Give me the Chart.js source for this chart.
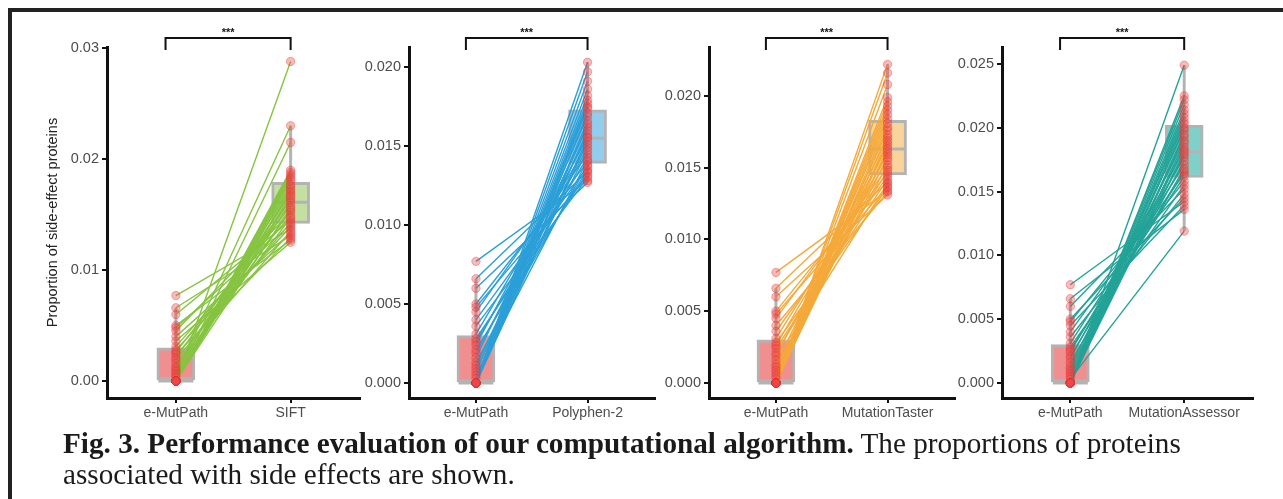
<!DOCTYPE html>
<html>
<head>
<meta charset="utf-8">
<script src="https://cdn.jsdelivr.net/npm/chart.js@4.4.1/dist/chart.umd.min.js"></script>
<style>
  html, body { margin: 0; padding: 0; background: #fff; }
  #page { position: relative; width: 1283px; height: 499px; overflow: hidden; background: #fff; }
  #frame { position: absolute; left: 8px; top: 8px; right: -10px; bottom: -10px;
           border-left: 4px solid #222; border-top: 4px solid #222; }
  canvas { position: absolute; top: 0; }
  #caption { position: absolute; left: 63px; top: 427px; font-family: 'Liberation Serif', 'Times New Roman', serif;
             font-size: 30px; line-height: 31px; color: #1a1a1a; white-space: nowrap;
             transform: scaleX(0.973); transform-origin: left top; }
</style>
</head>
<body>
<div id="page">
  <div id="frame"></div>
  <canvas id="p1" width="340" height="430" style="left:40px"></canvas>
  <canvas id="p2" width="330" height="430" style="left:345px"></canvas>
  <canvas id="p3" width="330" height="430" style="left:645px"></canvas>
  <canvas id="p4" width="335" height="430" style="left:938px"></canvas>
  <div id="caption"><b>Fig. 3. Performance evaluation of our computational algorithm.</b> The proportions of proteins<br>associated with side effects are shown.</div>
</div>
<script>
// paired values, one entry per item (same order in every array)
const eMutPath = [0.0077, 0.0066, 0.0060, 0.0050, 0.0048, 0.0045, 0.0040, 0.0036, 0.0031, 0.0028,
  0.0026, 0.0024, 0.0021, 0.0019, 0.0016, 0.0013, 0.0011, 0.0009, 0.0007, 0.0005,
  0.0003, 0, 0, 0, 0, 0, 0, 0, 0, 0, 0, 0, 0, 0, 0];
const sift = [0.0137, 0.0131, 0.0145, 0.0127, 0.0141, 0.0152, 0.0133, 0.0125, 0.0149, 0.0139,
  0.0158, 0.0129, 0.0163, 0.0143, 0.0135, 0.0169, 0.0147, 0.0175, 0.0154, 0.0230,
  0.0161, 0.0288, 0.0180, 0.0165, 0.0215, 0.0171, 0.0156, 0.0184, 0.0190, 0.0167,
  0.0182, 0.0173, 0.0186, 0.0177, 0.0188];
const polyphen2 = [0.0128, 0.0134, 0.0127, 0.0140, 0.0131, 0.0145, 0.0137, 0.0130, 0.0151, 0.0133,
  0.0143, 0.0156, 0.0135, 0.0149, 0.0162, 0.0138, 0.0158, 0.0147, 0.0169, 0.0141,
  0.0175, 0.0203, 0.0153, 0.0197, 0.0166, 0.0191, 0.0155, 0.0186, 0.0171, 0.0182,
  0.0160, 0.0179, 0.0164, 0.0177, 0.0174];
const mutationTaster = [0.0134, 0.0140, 0.0131, 0.0146, 0.0137, 0.0150, 0.0133, 0.0144, 0.0155, 0.0136,
  0.0159, 0.0142, 0.0148, 0.0165, 0.0139, 0.0171, 0.0152, 0.0161, 0.0176, 0.0157,
  0.0184, 0.0222, 0.0167, 0.0216, 0.0190, 0.0208, 0.0163, 0.0199, 0.0173, 0.0196,
  0.0169, 0.0187, 0.0178, 0.0193, 0.0181];
const mutationAssessor = [0.0142, 0.0136, 0.0152, 0.0145, 0.0158, 0.0139, 0.0164, 0.0148, 0.0171, 0.0155,
  0.0162, 0.0177, 0.0166, 0.0183, 0.0168, 0.0190, 0.0174, 0.0198, 0.0179, 0.0205,
  0.0119, 0.0249, 0.0185, 0.0225, 0.0193, 0.0222, 0.0181, 0.0218, 0.0200, 0.0214,
  0.0188, 0.0211, 0.0195, 0.0208, 0.0203];

// box stats: [whisker low, q1, median, q3, whisker high]
const eMutPathBox = [0, 0, 0, 0.0030, 0.0066];
const siftBox = [0.0125, 0.0142, 0.0161, 0.0179, 0.0230];
const polyphen2Box = [0.0127, 0.0139, 0.0155, 0.0173, 0.0203];
const mutationTasterBox = [0.0131, 0.0145, 0.0163, 0.0183, 0.0222];
const mutationAssessorBox = [0.0119, 0.0161, 0.0181, 0.0202, 0.0249];

// y tick labels
const yTicks1 = [0, 0.01, 0.02, 0.03];
const yTicks2 = [0, 0.005, 0.010, 0.015, 0.020];
const yTicks3 = [0, 0.005, 0.010, 0.015, 0.020];
const yTicks4 = [0, 0.005, 0.010, 0.015, 0.020, 0.025];

Chart.defaults.font.family = "'Liberation Sans', Arial, sans-serif";

const GREY = '#b3b3b3';
const PINK = '#ef8f8f';

// significance bracket above each panel
const bracketPlugin = {
  id: 'bracket',
  afterDraw(chart) {
    const { ctx, chartArea, scales } = chart;
    const x1 = scales.x.getPixelForValue(0.91);
    const x2 = scales.x.getPixelForValue(2);
    const yTop = chartArea.top - 9;
    const yEnd = chartArea.top + 3;
    ctx.save();
    ctx.strokeStyle = '#111';
    ctx.lineWidth = 2;
    ctx.beginPath();
    ctx.moveTo(x1, yEnd);
    ctx.lineTo(x1, yTop);
    ctx.lineTo(x2, yTop);
    ctx.lineTo(x2, yEnd);
    ctx.stroke();
    ctx.fillStyle = '#111';
    ctx.font = "bold 11px 'Liberation Sans', Arial, sans-serif";
    ctx.textAlign = 'center';
    ctx.textBaseline = 'middle';
    ctx.fillText('***', (x1 + x2) / 2, yTop - 5);
    ctx.restore();
  }
};

function makePanel(p) {
  const cats = ['e-MutPath', p.method];

  const pairLines = eMutPath.map((v, i) => ({
    type: 'line',
    data: [{ x: 1, y: v }, { x: 2, y: p.values[i] }],
    borderColor: p.lineColor,
    borderWidth: 1.4,
    pointRadius: 0,
    order: 1
  }));

  const points = {
    type: 'scatter',
    data: eMutPath.map(v => ({ x: 1, y: v })).concat(p.values.map(v => ({ x: 2, y: v }))),
    pointRadius: 4.2,
    pointBackgroundColor: 'rgba(236,72,72,0.38)',
    pointBorderColor: 'rgba(228,40,40,0.35)',
    pointBorderWidth: 1,
    order: 0
  };

  const boxes = {
    type: 'bar',
    data: [{ x: 1, y: [eMutPathBox[1], eMutPathBox[3]] }, { x: 2, y: [p.box[1], p.box[3]] }],
    backgroundColor: [PINK, p.boxColor],
    borderColor: GREY,
    borderWidth: 3,
    borderSkipped: false,
    barThickness: 38,
    order: 3
  };

  const medians = {
    type: 'scatter',
    data: [{ x: 1, y: eMutPathBox[2] }, { x: 2, y: p.box[2] }],
    pointStyle: 'line',
    pointRadius: 17.5,
    pointBorderColor: GREY,
    pointBorderWidth: 3,
    order: 2
  };

  const whiskers = [[1, eMutPathBox], [2, p.box]].map(([x, b]) => ({
    type: 'line',
    data: [{ x: x, y: b[0] }, { x: x, y: b[4] }],
    borderColor: GREY,
    borderWidth: 3,
    pointRadius: 0,
    order: 4
  }));

  new Chart(document.getElementById(p.id), {
    type: 'bar',
    data: { datasets: [points, ...pairLines, medians, boxes, ...whiskers] },
    options: {
      responsive: false,
      animation: false,
      devicePixelRatio: 1,
      layout: { padding: { top: 47, right: p.padRight, left: 0, bottom: 0 } },
      plugins: { legend: { display: false }, tooltip: { enabled: false } },
      scales: {
        x: {
          type: 'linear',
          min: 0.4,
          max: 2.6,
          offset: false,
          afterFit: s => { s.height = 32; },
          afterBuildTicks: axis => { axis.ticks = [{ value: 1 }, { value: 2 }]; },
          ticks: {
            autoSkip: false,
            maxRotation: 0,
            padding: 2,
            color: '#4d4d4d',
            font: { size: 14 },
            callback: v => cats[v - 1]
          },
          grid: { offset: false, drawOnChartArea: false, color: '#111', lineWidth: 2, tickLength: 5 },
          border: { display: true, color: '#111', width: 3 }
        },
        y: {
          type: 'linear',
          min: p.yMin,
          max: p.yMax,
          afterFit: s => { s.width = p.yWidth; },
          afterBuildTicks: axis => { axis.ticks = p.ticks.map(v => ({ value: v })); },
          ticks: {
            padding: 3,
            color: '#4d4d4d',
            font: { size: 14.5 },
            callback: v => v.toFixed(p.decimals)
          },
          grid: { drawOnChartArea: false, color: '#111', lineWidth: 2, tickLength: 5 },
          border: { display: true, color: '#111', width: 3 },
          title: {
            display: !!p.title,
            text: p.title || '',
            color: '#222',
            font: { size: 14.5 }
          }
        }
      }
    },
    plugins: [bracketPlugin]
  });
}

makePanel({ id: 'p1', method: 'SIFT', values: sift, box: siftBox, ticks: yTicks1, decimals: 2,
  yMin: -0.00153, yMax: 0.0301, yWidth: 67, padRight: 10,
  lineColor: '#86c441', boxColor: '#c4dfa2', title: 'Proportion of side-effect proteins' });
makePanel({ id: 'p2', method: 'Polyphen-2', values: polyphen2, box: polyphen2Box, ticks: yTicks2, decimals: 3,
  yMin: -0.00095, yMax: 0.02127, yWidth: 64, padRight: 10,
  lineColor: '#2b9fd8', boxColor: '#93cdee' });
makePanel({ id: 'p3', method: 'MutationTaster', values: mutationTaster, box: mutationTasterBox, ticks: yTicks3, decimals: 3,
  yMin: -0.00105, yMax: 0.02341, yWidth: 64, padRight: 10,
  lineColor: '#f5a93a', boxColor: '#f9d39a' });
makePanel({ id: 'p4', method: 'MutationAssessor', values: mutationAssessor, box: mutationAssessorBox, ticks: yTicks4, decimals: 3,
  yMin: -0.00118, yMax: 0.02633, yWidth: 64, padRight: 15,
  lineColor: '#23a398', boxColor: '#80d0c8' });
</script>
</body>
</html>
